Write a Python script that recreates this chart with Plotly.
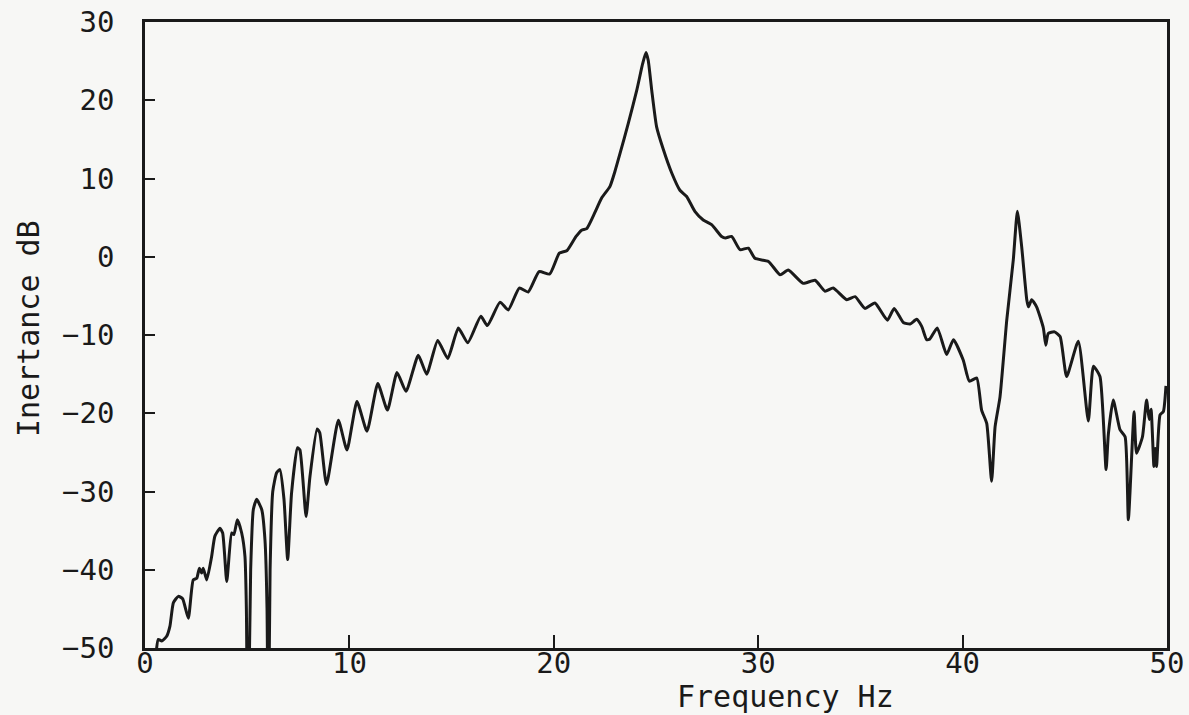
import plotly.graph_objects as go

# Frequency (Hz) and inertance (dB)
freq_hz = [
    0.55, 0.65, 0.82, 1.06, 1.22, 1.39, 1.63, 1.84, 2.12, 2.36, 2.53, 2.66, 2.77, 2.85,
    3.02, 3.26, 3.42, 3.67, 3.80, 4.00, 4.24, 4.35, 4.52, 4.73, 4.89, 4.96, 5.03, 5.17,
    5.30, 5.46, 5.71, 5.87, 5.97, 6.03, 6.12, 6.25, 6.44, 6.60, 6.80, 6.98, 7.17, 7.46,
    7.58, 7.88, 8.07, 8.42, 8.55, 8.88, 9.46, 9.88, 10.37, 10.86, 11.39, 11.86, 12.33,
    12.77, 13.37, 13.78, 14.32, 14.81, 15.33, 15.79, 16.43, 16.75, 17.37, 17.77, 18.31,
    18.75, 19.28, 19.80, 20.27, 20.65, 21.09, 21.36, 21.61, 22.00, 22.34, 22.75, 22.99,
    23.24, 23.65, 24.06, 24.35, 24.51, 24.62, 24.79, 25.03, 25.36, 25.77, 26.17, 26.50,
    26.90, 27.31, 27.72, 28.21, 28.40, 28.70, 29.11, 29.52, 29.84, 30.50, 31.07, 31.47,
    32.20, 32.78, 33.27, 33.67, 34.33, 34.74, 35.22, 35.71, 36.32, 36.65, 37.10, 37.43,
    37.75, 38.00, 38.24, 38.40, 38.76, 39.22, 39.55, 40.03, 40.33, 40.69, 40.93, 41.18,
    41.42, 41.59, 41.83, 42.16, 42.48, 42.68, 42.89, 43.14, 43.22, 43.38, 43.62, 43.95,
    44.07, 44.19, 44.50, 44.77, 45.09, 45.66, 46.15, 46.40, 46.72, 47.02, 47.13, 47.37,
    47.70, 47.95, 48.11, 48.39, 48.51, 48.80, 49.00, 49.13, 49.22, 49.36, 49.43, 49.49,
    49.66, 49.82, 49.95,
]

inertance_db = [
    -50.5, -48.9, -49.1, -48.5, -47.2, -44.2, -43.4, -43.7, -46.2, -41.3, -41.1, -39.8, -40.4, -39.8,
    -41.3, -38.3, -35.7, -34.7, -35.3, -41.5, -35.3, -35.5, -33.6, -35.3, -38.3, -45.0, -65.0, -40.0,
    -32.3, -31.0, -32.3, -36.2, -45.0, -65.0, -40.0, -30.0, -27.6, -27.2, -31.0, -38.7, -30.2, -24.4,
    -24.7, -33.2, -28.1, -22.0, -22.5, -29.1, -20.9, -24.7, -18.5, -22.3, -16.2, -19.6, -14.8,
    -17.2, -12.6, -15.0, -10.7, -13.0, -9.1, -11.0, -7.6, -8.8, -5.8, -6.8, -4.0,
    -4.5, -1.9, -2.2, 0.45, 0.8, 2.6, 3.4, 3.6, 5.6, 7.5, 9.0, 10.9,
    13.2, 17.1, 21.3, 24.7, 26.1, 25.1, 21.3, 16.6, 13.7, 10.7, 8.5, 7.7,
    5.8, 4.7, 4.1, 2.6, 2.4, 2.6, 0.9, 1.1, -0.2, -0.6, -2.3, -1.7,
    -3.4, -3.0, -4.4, -4.0, -5.5, -5.1, -6.6, -5.9, -8.1, -6.6, -8.4, -8.6,
    -8.0, -8.9, -10.6, -10.5, -9.1, -12.5, -10.6, -13.2, -15.9, -15.5, -19.6, -21.3,
    -28.7, -21.7, -17.9, -8.1, -0.4, 5.8, 1.3, -5.5, -6.4, -5.5, -6.4, -9.1,
    -11.3, -9.8, -9.6, -10.2, -15.3, -10.8, -21.0, -14.0, -15.3, -27.2, -22.7, -18.3,
    -22.1, -23.0, -33.6, -19.8, -25.1, -23.0, -18.3, -20.8, -19.5, -26.8, -24.5, -26.8,
    -20.2, -19.8, -16.5,
]

x_ticks = [0, 10, 20, 30, 40, 50]
y_ticks = [-50, -40, -30, -20, -10, 0, 10, 20, 30]
x_title = "Frequency Hz"
y_title = "Inertance dB"

FONT = "DejaVu Sans Mono, Liberation Mono, monospace"
INK = "#1a1a1a"
BG = "#f7f7f5"

fig = go.Figure()
fig.add_trace(go.Scatter(
    x=freq_hz, y=inertance_db, mode="lines",
    line=dict(color=INK, width=3, shape="spline", smoothing=0.5),
    showlegend=False, hoverinfo="x+y",
))

axis_common = dict(
    showgrid=False, zeroline=False, automargin=False,
    showline=True, mirror=True, linecolor=INK, linewidth=2.5,
    ticks="inside", tickcolor=INK, tickwidth=2,
    ticklabeloverflow="allow",
    tickfont=dict(family=FONT, size=29, color=INK),
)

fig.update_xaxes(range=[0, 50], tickvals=x_ticks, ticklen=13,
                 ticklabelstandoff=-13, **axis_common)
fig.update_yaxes(range=[-50, 30], tickvals=y_ticks, ticklen=10,
                 ticklabelstandoff=22, **axis_common)

fig.update_layout(
    width=1189, height=715,
    margin=dict(l=145, r=22, t=22, b=67),
    paper_bgcolor=BG, plot_bgcolor=BG,
    annotations=[
        dict(text=x_title, xref="paper", yref="paper", x=0.627, y=-0.078,
             xanchor="center", yanchor="middle", showarrow=False,
             font=dict(family=FONT, size=30, color=INK)),
        dict(text=y_title, xref="paper", yref="paper", x=-0.1145, y=0.511,
             xanchor="center", yanchor="middle", showarrow=False, textangle=-90,
             font=dict(family=FONT, size=30, color=INK)),
    ],
)

# remove the browser's default 8px body margin so the figure fills the window
fig.write_html("out.html",
               config={"displayModeBar": False},
               post_script="document.body.style.margin='0';document.body.style.background='#f7f7f5';")
